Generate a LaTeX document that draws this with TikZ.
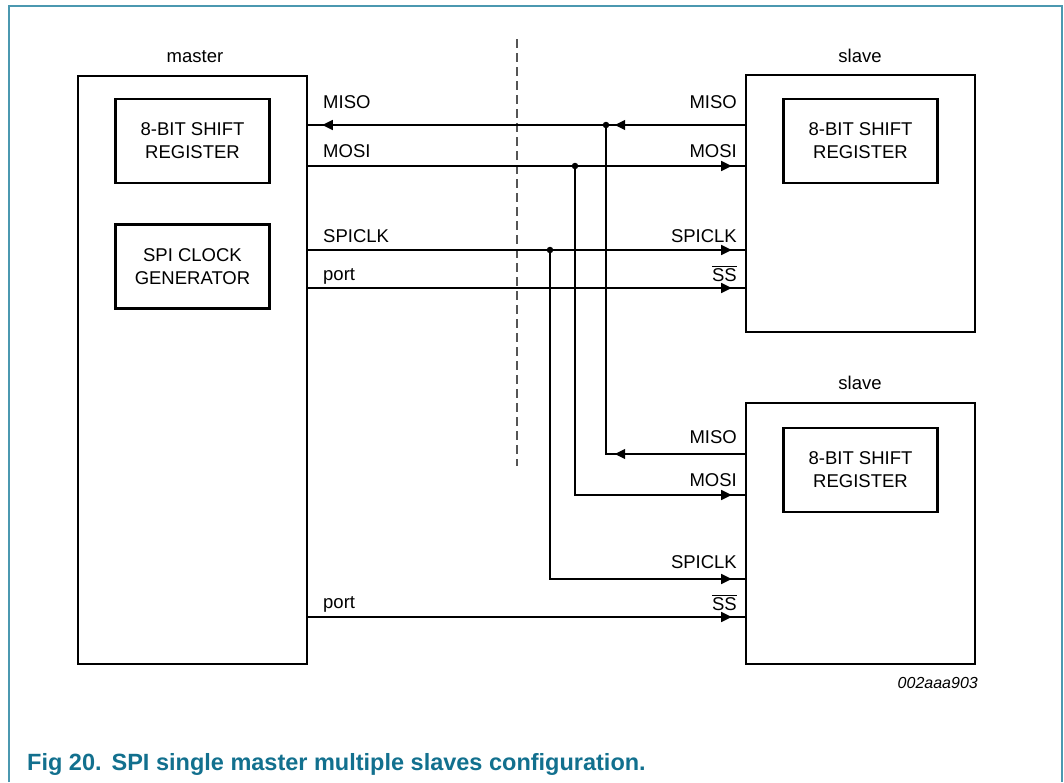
\documentclass[tikz,border=0pt]{standalone}
\usepackage{fontspec}
\setmainfont{Liberation Sans}
\definecolor{spiframe}{HTML}{4B98B0}
\definecolor{spicap}{HTML}{12708E}
\definecolor{spigrey}{HTML}{555555}
\usetikzlibrary{arrows.meta,positioning,decorations.markings,calc}
\tikzset{
  spiunit/.style={draw,line width=2.6pt,minimum width=229pt,inner sep=0pt},
  spireg/.style={draw,line width=2.6pt,minimum width=154pt,minimum height=84pt,align=center,font=\fontsize{18.5}{23}\selectfont,inner sep=0pt},
  spititle/.style={anchor=base,font=\fontsize{18.5}{23}\selectfont,inner sep=0pt},
  spisig/.style={font=\fontsize{18.5}{23}\selectfont,inner sep=0pt},
  spiwire/.style={line width=1.3pt},
  spitip/.style={postaction={decorate,decoration={markings,mark=at position #1 with {\arrow{Triangle[length=10.5pt,width=10pt]}}}}},
  spidot/.style={circle,fill,inner sep=0pt,minimum size=6.5pt},
  spidash/.style={spigrey,line width=2pt,dash pattern=on 9.3pt off 4.7pt},
}
\newcommand{\spiss}{$\overline{\mbox{SS}}$}
\begin{document}
\begin{tikzpicture}[x=1pt,y=-1pt]
\useasboundingbox (0,0) rectangle (1064,782);
\draw[spiframe,line width=1.5pt] (9,782) -- (9,6) -- (1062,6) -- (1062,782);
\node[spiunit,minimum height=588pt](master) at (192.5,370){};
\node[spiunit,minimum height=257pt](slave1) at (860.5,203.5){};
\node[spiunit,minimum height=261pt](slave2) at (860.5,533.5){};
\node[spireg,below=23pt of master.north](mreg){8-BIT SHIFT\\REGISTER};
\node[spireg,below=39pt of mreg](mclk){SPI CLOCK\\GENERATOR};
\node[spireg,below=24pt of slave1.north](s1reg){8-BIT SHIFT\\REGISTER};
\node[spireg,below=25pt of slave2.north](s2reg){8-BIT SHIFT\\REGISTER};
\node[spititle](tmaster) at (195,62){master};
\node[spititle](tslave1) at (860,62){slave};
\node[spititle](tslave2) at (860,389){slave};
\draw[spidash] (517,39) coordinate (dtop) -- (517,466) coordinate (dbot);
\coordinate (rmiso) at (0,125);
\coordinate (rmosi) at (0,166);
\coordinate (rclk) at (0,250);
\coordinate (rss) at (0,288);
\coordinate (r2miso) at (0,454);
\coordinate (r2mosi) at (0,495);
\coordinate (r2clk) at (0,579);
\coordinate (r2ss) at (0,617);
\node[spidot](jmiso) at (606,125){};
\node[spidot](jmosi) at (575,166){};
\node[spidot](jclk) at (550,250){};
\node[spisig,anchor=base west](lmmiso) at (323,108){MISO};
\node[spisig,anchor=base west](lmmosi) at (323,157){MOSI};
\node[spisig,anchor=base west](lmclk) at (323,242){SPICLK};
\node[spisig,anchor=base west](lmport) at (323,280){port};
\node[spisig,anchor=base west](lmport2) at (323,608){port};
\node[spisig,anchor=base east](l1miso) at (737,108){MISO};
\node[spisig,anchor=base east](l1mosi) at (737,157){MOSI};
\node[spisig,anchor=base east](l1clk) at (737,242){SPICLK};
\node[spisig,anchor=base east](l1ss) at (737,281){\spiss};
\node[spisig,anchor=base east](l2miso) at (737,443){MISO};
\node[spisig,anchor=base east](l2mosi) at (737,486){MOSI};
\node[spisig,anchor=base east](l2clk) at (737,568){SPICLK};
\node[spisig,anchor=base east](l2ss) at (737,610){\spiss};
\draw[spiwire,spitip=130pt,spitip=-14pt](slave1.west |- rmiso)--(master.east |- rmiso);
\draw[spiwire,spitip=-13pt](master.east |- rmosi)--(slave1.west |- rmosi);
\draw[spiwire,spitip=-13pt](master.east |- rclk)--(slave1.west |- rclk);
\draw[spiwire,spitip=-13pt](master.east |- rss)--(slave1.west |- rss);
\draw[spiwire,spitip=130pt](slave2.west |- r2miso)-|(jmiso);
\draw[spiwire,spitip=-13pt](jmosi)|-(slave2.west |- r2mosi);
\draw[spiwire,spitip=-13pt](jclk)|-(slave2.west |- r2clk);
\draw[spiwire,spitip=-13pt](master.east |- r2ss)--(slave2.west |- r2ss);
\node[anchor=base east,font=\fontsize{16}{19}\selectfont\itshape,inner sep=0pt](code) at (978,688){002aaa903};
\node[anchor=base west,font=\fontsize{23.5}{28}\selectfont\bfseries,text=spicap,inner sep=0pt](cap) at (27,770){Fig 20.\hspace{10pt}SPI single master multiple slaves configuration.};
\end{tikzpicture}
\end{document}
